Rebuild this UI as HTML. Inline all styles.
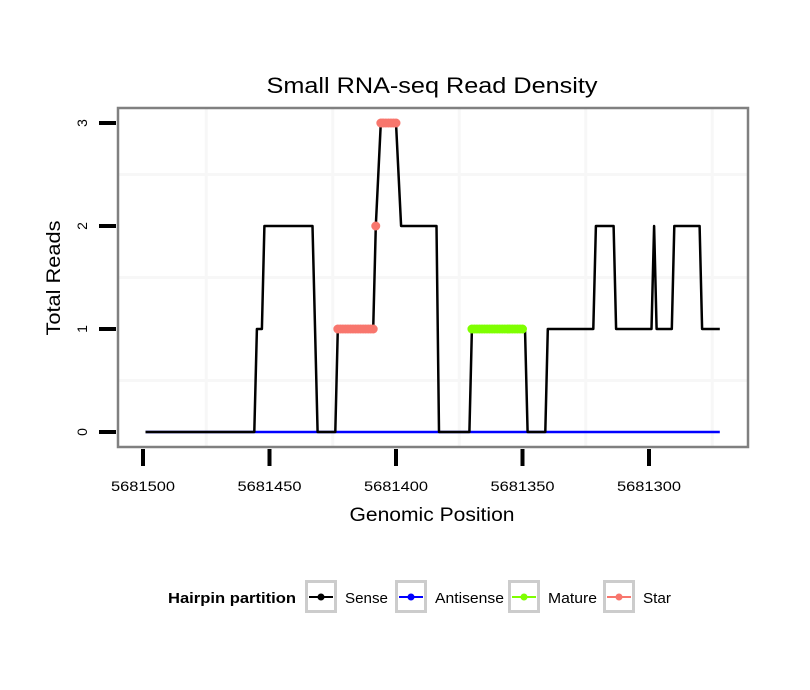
<!DOCTYPE html>
<html><head><meta charset="utf-8"><style>
html,body{margin:0;padding:0;background:#fff;}
svg{display:block;font-family:"Liberation Sans",sans-serif;}
</style></head><body>
<svg id="chart" width="810" height="690" viewBox="0 0 810 690">
<rect x="0" y="0" width="810" height="690" fill="#fff"/>
<text x="432" y="93" text-anchor="middle" font-size="22" textLength="331" lengthAdjust="spacingAndGlyphs" fill="#000">Small RNA-seq Read Density</text>
<g id="grid"></g>
<g id="series"></g>
<rect x="118" y="108" width="630" height="339" fill="none" stroke="#808080" stroke-width="2.5"/>
<g id="axes"></g>
<text x="432" y="521" text-anchor="middle" font-size="19" textLength="165" lengthAdjust="spacingAndGlyphs">Genomic Position</text>
<text transform="translate(60,278) rotate(-90)" text-anchor="middle" font-size="19" textLength="115" lengthAdjust="spacingAndGlyphs">Total Reads</text>
<g id="legend">
<text x="168" y="603" font-size="15" font-weight="bold" textLength="128" lengthAdjust="spacingAndGlyphs">Hairpin partition</text>
</g>
</svg>
<script>
const NS="http://www.w3.org/2000/svg";
// data
const senseOffsets=[1,44,45,47,48,67,69,76,77,91,92,94,100,102,116,117,129,130,151,152,159,160,178,179,186,187,201,202,203,209,210,220,221,228];
const senseReads=[0,0,1,1,2,2,0,0,1,1,2,3,3,2,2,0,0,1,1,0,0,1,1,2,2,1,1,2,1,1,2,2,1,1];
const antisenseOffsets=[1,228];
const antisenseReads=[0,0];
const starOffsets=[77,78,79,80,81,82,83,84,85,86,87,88,89,90,91,92,94,95,96,97,98,99,100];
const starReads=[1,1,1,1,1,1,1,1,1,1,1,1,1,1,1,2,3,3,3,3,3,3,3];
const matureOffsets=[130,131,132,133,134,135,136,137,138,139,140,141,142,143,144,145,146,147,148,149,150];
const matureReads=[1,1,1,1,1,1,1,1,1,1,1,1,1,1,1,1,1,1,1,1,1];
const basePos=5681500;
const xTicks=[5681500,5681450,5681400,5681350,5681300];
const yTicks=[0,1,2,3];
const xMinor=[5681475,5681425,5681375,5681325,5681275];
const yMinor=[0.5,1.5,2.5];

const xs=p=>143+(basePos-p)*2.53;
const ys=v=>432-v*103;
function mk(tag,attrs,parent){const e=document.createElementNS(NS,tag);for(const k in attrs)e.setAttribute(k,attrs[k]);parent.appendChild(e);return e;}
const grid=document.getElementById('grid'),series=document.getElementById('series'),axes=document.getElementById('axes'),legend=document.getElementById('legend');
xMinor.forEach(p=>{const l=mk('line',{x1:xs(p),x2:xs(p),y1:109,y2:446,stroke:'#f7f7f7','stroke-width':3},grid);

});
yMinor.forEach(v=>{const l=mk('line',{x1:119,x2:747,y1:ys(v),y2:ys(v),stroke:'#f7f7f7','stroke-width':3},grid);

});
function path(offs,vals){return offs.map((o,i)=>(i?'L':'M')+xs(basePos-o).toFixed(1)+','+ys(vals[i]).toFixed(1)).join(' ');}
const a=mk('path',{d:path(antisenseOffsets,antisenseReads),stroke:'#0000ff','stroke-width':2.5,fill:'none'},series);


const s=mk('path',{d:path(senseOffsets,senseReads),stroke:'#000','stroke-width':2.5,fill:'none','stroke-linejoin':'round'},series);


function pts(offs,vals,color,name){offs.forEach((o,i)=>{const c=mk('circle',{cx:xs(basePos-o),cy:ys(vals[i]),r:4.5,fill:color},series);

});}
pts(starOffsets,starReads,'#f8766d','star-point');
pts(matureOffsets,matureReads,'#7fff00','mature-point');
xTicks.forEach(p=>{const l=mk('line',{x1:xs(p),x2:xs(p),y1:449,y2:466,stroke:'#000','stroke-width':4},axes);


const t=mk('text',{x:xs(p),y:491,'text-anchor':'middle','font-size':14,textLength:64,lengthAdjust:'spacingAndGlyphs'},axes);t.textContent=p;

});
yTicks.forEach(v=>{const l=mk('line',{x1:99,x2:116,y1:ys(v),y2:ys(v),stroke:'#000','stroke-width':4},axes);


const t=mk('text',{transform:`translate(87,${ys(v)}) rotate(-90)`,'text-anchor':'middle','font-size':14},axes);t.textContent=v;

});
const legItems=[['Sense','#000',305,43],['Antisense','#0000ff',395,69],['Mature','#7fff00',508,49],['Star','#f8766d',603,28]];
legItems.forEach(([lab,col,x,w])=>{const g=mk('g',{},legend);


mk('rect',{x:x+1.5,y:581.5,width:29,height:30,fill:'#fff',stroke:'#cccccc','stroke-width':3},g);
mk('line',{x1:x+4,x2:x+28,y1:597,y2:597,stroke:col,'stroke-width':2},g);
mk('circle',{cx:x+16,cy:597,r:3.5,fill:col},g);
const t=mk('text',{x:x+40,y:603,'font-size':15,textLength:w,lengthAdjust:'spacingAndGlyphs'},g);t.textContent=lab;});
</script>
</body></html>
